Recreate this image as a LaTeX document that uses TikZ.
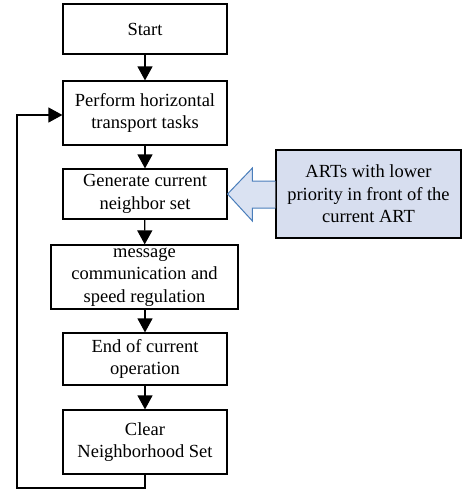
\documentclass[tikz,border=0pt]{standalone}
\usepackage{fontspec}
\setmainfont{Liberation Serif}
\usetikzlibrary{arrows.meta,calc}
\definecolor{artfill}{HTML}{D7DEEF}
\definecolor{arrfill}{HTML}{DAE2F2}
\definecolor{arrline}{HTML}{4A7EBB}
\begin{document}
\begin{tikzpicture}[x=1pt,y=-1pt,
  box/.style={draw=black,line width=1.2pt,rectangle,minimum width=164pt,
    align=center,inner sep=0pt,font=\fontsize{18.5}{22.5}\selectfont},
  flow/.style={line width=1.2pt,-{Triangle[width=15pt,length=14pt]}}]
\useasboundingbox (0,0) rectangle (462,491);
\node[box,minimum height=50pt] (start) at (145,29) {Start};
\node[box,minimum height=64pt] (perf) at (145,113) {Perform horizontal\\transport tasks};
\node[box,minimum height=50pt] (gen) at (145,194) {Generate current\\neighbor set};
\node[box,minimum height=64pt,minimum width=187pt] (msg) at (144.5,277) {message\\communication and\\speed regulation};
\node[box,minimum height=52pt] (end) at (145,359) {End of current\\operation};
\node[box,minimum height=64pt] (clr) at (145,442) {Clear\\Neighborhood Set};
\node[box,fill=artfill,minimum width=185pt,minimum height=88pt] (art) at (368.5,194) {ARTs with lower\\priority in front of the\\current ART};
\draw[flow] (start) -- (perf);
\draw[flow] (perf) -- (gen);
\draw[flow] (gen) -- (msg);
\draw[flow] (msg.south -| end.north) -- (end);
\draw[flow] (end) -- (clr);
\coordinate (lb) at (17,488);
\coordinate (lt) at (17,115);
\draw[flow] (clr.south) |- (lb) -- (lt) -- (lt -| perf.west);
\draw[draw=arrline,fill=arrfill,line width=1pt,line join=miter]
  ($(art.west)+(0,-13)$) -- ++(-23,0) -- ++(0,-13) -- (gen.east) -- ($(art.west)+(-23,27)$) -- ++(0,-13) -- ($(art.west)+(0,14)$);
\end{tikzpicture}
\end{document}
